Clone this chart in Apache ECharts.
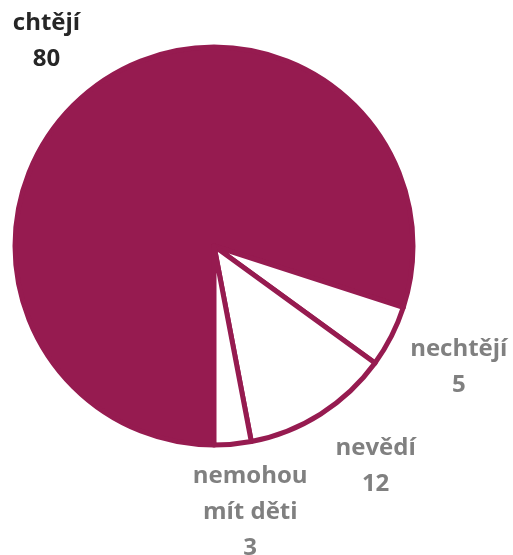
<!DOCTYPE html>
<html>
<head>
<meta charset="utf-8">
<script src="https://cdn.jsdelivr.net/npm/echarts@6/dist/echarts.min.js"></script>
<style>
html,body{margin:0;padding:0;background:#fff;}
#c{width:513px;height:555px;}
</style>
</head>
<body>
<div id="c"></div>
<script>
var categories = ['chtějí', 'nechtějí', 'nevědí', 'nemohou\nmít děti'];
var values = [80, 5, 12, 3];
var fillColors = ['#961B50', '#FFFFFF', '#FFFFFF', '#FFFFFF'];
var labelColors = ['#262626', '#808080', '#808080', '#808080'];
var labelNudges = [[-10, 12], [6, -1], [18, -6], [11, -1]];

var CX = 214, CY = 246, R = 199, LABEL_DIST = 268, START = -90;
var total = values.reduce(function(a, b){ return a + b; }, 0);

var chart = echarts.init(document.getElementById('c'), null, {renderer: 'canvas'});
var data = categories.map(function(n, i){
  return {
    name: n, value: values[i],
    itemStyle: {color: fillColors[i]},
    label: {color: labelColors[i]}
  };
});

function labelPos(idx){
  var before = 0;
  for (var i = 0; i < idx; i++) before += values[i];
  var mid = before + values[idx] / 2;
  var ang = (START - mid / total * 360) * Math.PI / 180;
  return {
    x: CX + LABEL_DIST * Math.cos(ang) + labelNudges[idx][0],
    y: CY - LABEL_DIST * Math.sin(ang) + labelNudges[idx][1]
  };
}

chart.setOption({
  animation: false,
  series: [{
    type: 'pie',
    center: [CX, CY],
    radius: R,
    startAngle: START,
    clockwise: true,
    avoidLabelOverlap: false,
    data: data,
    itemStyle: {borderColor: '#961B50', borderWidth: 5},
    emphasis: {disabled: true},
    labelLine: {show: false},
    label: {
      show: true,
      position: 'outside',
      formatter: '{b}\n{c}',
      fontFamily: 'Open Sans',
      fontWeight: 'bold',
      fontSize: 24,
      lineHeight: 36,
      align: 'center'
    },
    labelLayout: function(params){
      var p = labelPos(params.dataIndex);
      return {x: p.x, y: p.y, align: 'center', verticalAlign: 'middle'};
    }
  }]
});
</script>
</body>
</html>
